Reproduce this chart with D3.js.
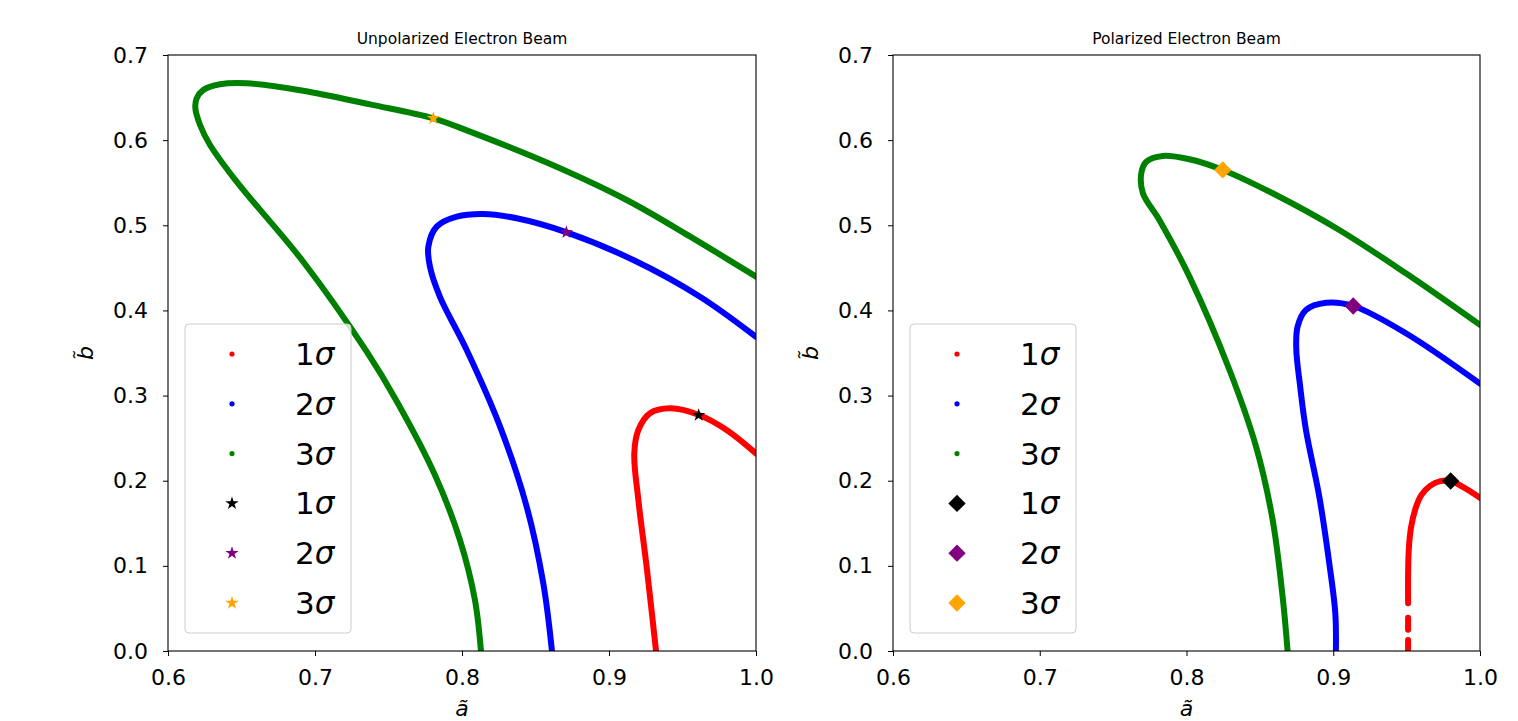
<!DOCTYPE html>
<html>
<head>
<meta charset="utf-8">
<script src="https://cdn.jsdelivr.net/npm/d3@7"></script>
<style>
  body { margin: 0; background: #fff; }
  svg { display: block; font-family: "DejaVu Sans", sans-serif; }
</style>
</head>
<body>
<svg id="chart" width="1518" height="721"></svg>
<script>
// axis ticks
var xTicks = [0.6, 0.7, 0.8, 0.9, 1.0];
var yTicks = [0.0, 0.1, 0.2, 0.3, 0.4, 0.5, 0.6, 0.7];
var titles = ['Unpolarized Electron Beam', 'Polarized Electron Beam'];
var legendLabels = ['1', '2', '3', '1', '2', '3'];
var curveColors = ['red', 'blue', 'green'];
var markerColors = ['black', 'purple', 'orange'];

// unpolarized beam contours, [a, b]
var unpol1s = [[0.932, 0.000], [0.9256, 0.099], [0.920, 0.177], [0.9172, 0.232], [0.920, 0.2596],
  [0.9279, 0.2792], [0.9415, 0.285], [0.9612, 0.2772], [0.980, 0.2596], [1.0, 0.232]];
var unpol2s = [[0.8612, 0.000], [0.8553, 0.0795], [0.844, 0.1695], [0.8259, 0.2635], [0.8032, 0.3535],
  [0.785, 0.416], [0.7782, 0.4514], [0.7771, 0.4749], [0.7828, 0.4984], [0.7964, 0.5101], [0.8145, 0.5133],
  [0.8372, 0.5082], [0.8712, 0.4917], [0.9166, 0.4592], [0.9619, 0.4161], [1.0, 0.369]];
var unpol3s = [[0.8129, 0.000], [0.8088, 0.0599], [0.7986, 0.1304], [0.7816, 0.2067], [0.7551, 0.2948],
  [0.7352, 0.3515], [0.692, 0.4572], [0.6467, 0.5512], [0.6286, 0.5943], [0.6218, 0.6178], [0.6186, 0.6377],
  [0.6195, 0.6491], [0.624, 0.6589], [0.6354, 0.6656], [0.6535, 0.6668], [0.692, 0.658], [0.7374, 0.642],
  [0.7805, 0.6257], [0.8054, 0.610], [0.8585, 0.5731], [0.912, 0.5297], [0.955, 0.487], [1.0, 0.4397]];
var unpolBest = [[0.961, 0.277], [0.871, 0.4917], [0.7805, 0.6257]];

// polarized beam contours, [a, b]
var pol1s = [[0.951, 0.056], [0.951, 0.090], [0.9515, 0.120], [0.953, 0.145], [0.956, 0.167], [0.960, 0.183],
  [0.966, 0.194], [0.973, 0.1995], [0.980, 0.1997], [0.988, 0.193], [1.0, 0.180]];
var pol1sDashes = [[[0.951, 0.000], [0.951, 0.013]], [[0.951, 0.025], [0.951, 0.039]]];
var pol2s = [[0.9018, 0.000], [0.9014, 0.0443], [0.8973, 0.103], [0.8905, 0.1812], [0.8814, 0.2596],
  [0.8775, 0.310], [0.8748, 0.355], [0.8757, 0.381], [0.8814, 0.4005], [0.895, 0.409], [0.9136, 0.4052],
  [0.9495, 0.3732], [1.0, 0.314]];
var pol3s = [[0.8689, 0.000], [0.8655, 0.0638], [0.8587, 0.154], [0.8474, 0.240], [0.8293, 0.330],
  [0.802, 0.4397], [0.7816, 0.506], [0.7703, 0.5376], [0.7692, 0.561], [0.7726, 0.5747], [0.7839, 0.5814],
  [0.802, 0.5775], [0.8247, 0.565], [0.8587, 0.5376], [0.9041, 0.4945], [0.9495, 0.4436], [1.0, 0.383]];
var polBest = [[0.980, 0.1997], [0.9136, 0.4052], [0.8247, 0.565]];

var svg = d3.select('#chart');
var plotTop = 55, plotBottom = 651;

var panels = [
    {left: 168, right: 756, title: titles[0], curves: [unpol1s, unpol2s, unpol3s], dashes: [],
        best: unpolBest, symbol: 'star'},
    {left: 893, right: 1480, title: titles[1], curves: [pol1s, pol2s, pol3s], dashes: pol1sDashes,
        best: polBest, symbol: 'diamond'}
];

function markerPath(kind) {
    if (kind === 'star') {
        return d3.symbol().type(d3.symbolStar).size(55)();
    }
    return d3.symbol().type(d3.symbolSquare).size(150)();
}

function markerTransform(kind, x, y) {
    return 'translate(' + x + ',' + y + ')' + (kind === 'diamond' ? ' rotate(45)' : '');
}

panels.forEach(function(p, idx) {
    var x = d3.scaleLinear().domain([0.6, 1.0]).range([p.left, p.right]);
    var y = d3.scaleLinear().domain([0, 0.7]).range([plotBottom, plotTop]);
    var g = svg.append('g');

    g.append('clipPath').attr('id', 'clip' + idx)
        .append('rect')
        .attr('x', p.left).attr('y', plotTop)
        .attr('width', p.right - p.left).attr('height', plotBottom - plotTop);

    var plot = g.append('g').attr('clip-path', 'url(#clip' + idx + ')');
    var line = d3.line()
        .x(function(d) { return x(d[0]); })
        .y(function(d) { return y(d[1]); })
        .curve(d3.curveCatmullRom.alpha(0.5));

    p.curves.forEach(function(c, i) {
        plot.append('path')
            .attr('d', line(c))
            .attr('fill', 'none')
            .attr('stroke', curveColors[i])
            .attr('stroke-width', 6)
            .attr('stroke-linecap', 'round');
    });
    p.dashes.forEach(function(c) {
        plot.append('path')
            .attr('d', d3.line().x(function(d) { return x(d[0]); }).y(function(d) { return y(d[1]); })(c))
            .attr('fill', 'none')
            .attr('stroke', curveColors[0])
            .attr('stroke-width', 6)
            .attr('stroke-linecap', 'round');
    });

    p.best.forEach(function(b, i) {
        plot.append('path')
            .attr('d', markerPath(p.symbol))
            .attr('transform', markerTransform(p.symbol, x(b[0]), y(b[1])))
            .attr('fill', markerColors[i]);
    });

    // legend
    var lx = p.left + 17, ly = 324;
    var leg = g.append('g');
    leg.append('rect')
        .attr('x', lx).attr('y', ly)
        .attr('width', 166).attr('height', 309)
        .attr('rx', 4)
        .attr('fill', 'white').attr('fill-opacity', 0.8)
        .attr('stroke', '#cccccc').attr('stroke-width', 1);
    legendLabels.forEach(function(lab, i) {
        var cy = ly + 30 + i * 49.8;
        var mx = lx + 47;
        if (i < 3) {
            leg.append('circle').attr('cx', mx).attr('cy', cy).attr('r', 2.6).attr('fill', curveColors[i]);
        } else {
            leg.append('path')
                .attr('d', markerPath(p.symbol))
                .attr('transform', markerTransform(p.symbol, mx, cy))
                .attr('fill', markerColors[i - 3]);
        }
        var t = leg.append('text')
            .attr('x', lx + 110).attr('y', cy + 11)
            .attr('font-size', 31).attr('fill', 'black');
        t.append('tspan').text(lab);
        t.append('tspan').attr('font-style', 'italic').text('σ');
    });

    // axes
    g.append('g')
        .attr('transform', 'translate(0,' + plotBottom + ')')
        .call(d3.axisBottom(x).tickValues(xTicks).tickFormat(d3.format('.1f')).tickSize(5).tickPadding(13))
        .call(function(a) {
            a.select('.domain').remove();
            a.selectAll('text').attr('font-size', 22).attr('font-family', 'DejaVu Sans').attr('fill', 'black');
        });
    g.append('g')
        .attr('transform', 'translate(' + p.left + ',0)')
        .call(d3.axisLeft(y).tickValues(yTicks).tickFormat(d3.format('.1f')).tickSize(5).tickPadding(15))
        .call(function(a) {
            a.select('.domain').remove();
            a.selectAll('text').attr('font-size', 22).attr('font-family', 'DejaVu Sans').attr('fill', 'black');
        });

    g.append('rect')
        .attr('x', p.left).attr('y', plotTop)
        .attr('width', p.right - p.left).attr('height', plotBottom - plotTop)
        .attr('fill', 'none').attr('stroke', 'black').attr('stroke-width', 1.1);

    g.append('text')
        .attr('x', (p.left + p.right) / 2).attr('y', 44)
        .attr('text-anchor', 'middle').attr('font-size', 15.5)
        .text(p.title);

    g.append('text')
        .attr('x', (p.left + p.right) / 2).attr('y', 716)
        .attr('text-anchor', 'middle').attr('font-size', 22).attr('font-style', 'italic')
        .text('ã');

    g.append('text')
        .attr('transform', 'translate(' + (p.left - 75) + ',' + ((plotTop + plotBottom) / 2) + ') rotate(-90)')
        .attr('text-anchor', 'middle').attr('font-size', 22).attr('font-style', 'italic')
        .text('b̃');
});
</script>
</body>
</html>
